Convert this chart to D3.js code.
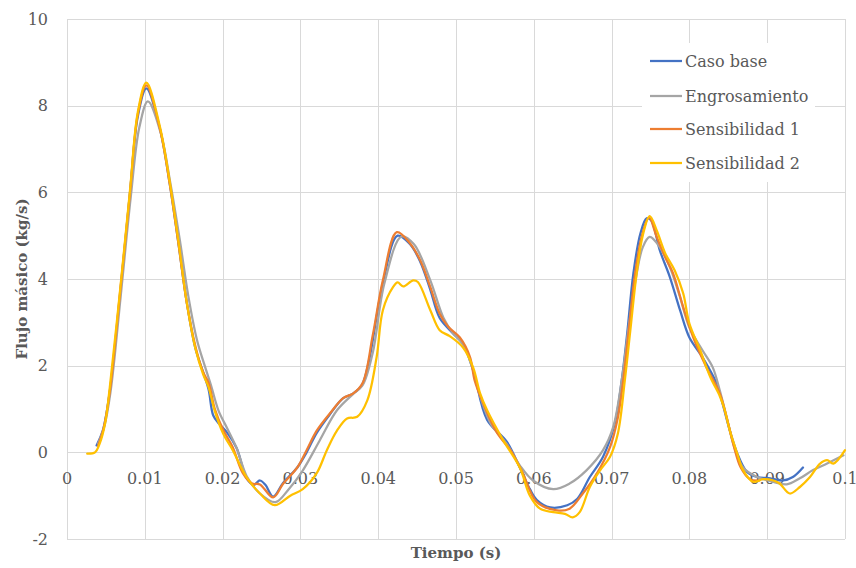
<!DOCTYPE html>
<html>
<head>
<meta charset="utf-8">
<script src="https://cdn.jsdelivr.net/npm/d3@7"></script>
<style>
  html, body { margin: 0; padding: 0; background: #fff; }
  svg { display: block; }
</style>
</head>
<body>
<svg id="chart" width="856" height="568"></svg>
<script>
// ---- Data (time in s, mass flow in kg/s) ----
const seriesNames = ["Caso base", "Engrosamiento", "Sensibilidad 1", "Sensibilidad 2"];
const xTicks = [0, 0.01, 0.02, 0.03, 0.04, 0.05, 0.06, 0.07, 0.08, 0.09, 0.1];
const xTickLabels = ["0", "0.01", "0.02", "0.03", "0.04", "0.05", "0.06", "0.07", "0.08", "0.09", "0.1"];
const yTicks = [-2, 0, 2, 4, 6, 8, 10];

const casoBase = [
  [0.0038,0.16],[0.0046,0.5],[0.0055,1.4],[0.0068,3.6],[0.0081,6.0],[0.0091,7.75],[0.0102,8.4],
  [0.0119,7.5],[0.0132,6.2],[0.0143,4.85],[0.0154,3.45],[0.0165,2.4],[0.0175,1.85],[0.0182,1.45],
  [0.0188,0.85],[0.0196,0.65],[0.0206,0.45],[0.0218,0.1],[0.0231,-0.6],[0.0240,-0.75],[0.0248,-0.65],
  [0.0255,-0.75],[0.0265,-1.02],[0.0278,-0.7],[0.0296,-0.35],[0.0308,0.0],[0.0321,0.45],[0.0338,0.88],
  [0.0355,1.25],[0.0368,1.36],[0.0379,1.55],[0.0388,2.1],[0.0406,3.9],[0.0425,5.0],[0.0441,4.8],
  [0.0454,4.4],[0.0467,3.75],[0.0479,3.1],[0.0496,2.75],[0.0509,2.5],[0.0522,1.9],[0.0540,0.75],
  [0.0565,0.25],[0.0582,-0.35],[0.0595,-0.85],[0.0604,-1.1],[0.0621,-1.27],[0.0643,-1.22],[0.0656,-1.07],
  [0.0672,-0.57],[0.0689,-0.1],[0.0704,0.66],[0.0713,1.66],[0.0720,2.74],[0.0728,4.13],[0.0737,5.05],
  [0.0745,5.4],[0.0751,5.35],[0.0762,4.66],[0.0775,4.04],[0.0788,3.28],[0.0800,2.65],[0.0817,2.19],
  [0.0835,1.59],[0.0843,1.1],[0.0852,0.5],[0.0861,0.0],[0.0874,-0.45],[0.0887,-0.57],[0.0904,-0.6],
  [0.0920,-0.65],[0.0933,-0.57],[0.0946,-0.35]
];

const engrosamiento = [
  [0.0040,0.2],[0.0048,0.6],[0.0056,1.4],[0.0069,3.6],[0.0082,5.9],[0.0093,7.5],[0.0104,8.1],
  [0.0120,7.4],[0.0133,6.2],[0.0145,4.9],[0.0156,3.6],[0.0167,2.6],[0.0177,2.0],[0.0185,1.55],
  [0.0195,0.95],[0.0206,0.55],[0.0218,0.1],[0.0231,-0.55],[0.0248,-0.95],[0.0268,-1.15],[0.0285,-0.85],
  [0.0303,-0.42],[0.0325,0.28],[0.0347,0.97],[0.0368,1.35],[0.0380,1.55],[0.0393,2.3],[0.0408,3.9],
  [0.0430,4.98],[0.0446,4.8],[0.0467,3.97],[0.0484,3.1],[0.0496,2.75],[0.0509,2.5],[0.0520,2.0],
  [0.0531,1.3],[0.0545,0.65],[0.0565,0.2],[0.0582,-0.3],[0.0599,-0.65],[0.0625,-0.85],[0.0646,-0.72],
  [0.0668,-0.41],[0.0689,0.05],[0.0702,0.58],[0.0713,1.66],[0.0722,2.9],[0.0732,4.1],[0.0740,4.73],
  [0.0749,4.97],[0.0762,4.73],[0.0775,4.27],[0.0788,3.58],[0.0800,2.88],[0.0817,2.35],[0.0830,1.96],
  [0.0839,1.43],[0.0848,0.8],[0.0858,0.1],[0.0869,-0.35],[0.0887,-0.57],[0.0908,-0.68],[0.0925,-0.74],
  [0.0942,-0.6],[0.0959,-0.41],[0.0977,-0.26],[0.0998,-0.07]
];

const sensibilidad1 = [
  [0.0040,0.15],[0.0047,0.55],[0.0055,1.4],[0.0068,3.65],[0.0081,6.0],[0.0091,7.8],[0.0102,8.47],
  [0.0119,7.5],[0.0132,6.2],[0.0143,4.85],[0.0154,3.45],[0.0165,2.45],[0.0175,1.85],[0.0182,1.6],
  [0.0190,1.0],[0.0201,0.51],[0.0213,0.12],[0.0226,-0.48],[0.0238,-0.72],[0.0248,-0.74],[0.0265,-1.04],
  [0.0278,-0.72],[0.0296,-0.35],[0.0308,0.05],[0.0321,0.5],[0.0338,0.9],[0.0355,1.25],[0.0368,1.36],
  [0.0380,1.6],[0.0393,2.7],[0.0406,3.97],[0.0424,5.08],[0.0441,4.82],[0.0454,4.43],[0.0467,3.81],
  [0.0479,3.2],[0.0490,2.9],[0.0505,2.65],[0.0518,2.2],[0.0524,1.66],[0.0535,1.13],[0.0553,0.44],
  [0.0570,0.05],[0.0585,-0.45],[0.0604,-1.15],[0.0630,-1.34],[0.0646,-1.3],[0.0663,-0.95],[0.0681,-0.49],
  [0.0698,0.12],[0.0708,0.8],[0.0715,1.66],[0.0722,2.8],[0.0730,4.1],[0.0739,5.0],[0.0748,5.42],
  [0.0758,4.97],[0.0769,4.5],[0.0779,4.13],[0.0792,3.35],[0.0805,2.65],[0.0822,1.96],[0.0839,1.36],
  [0.0848,0.8],[0.0857,0.15],[0.0866,-0.35],[0.0878,-0.62],[0.0890,-0.65]
];

const sensibilidad2 = [
  [0.0026,-0.03],[0.0036,0.0],[0.0042,0.2],[0.0049,0.67],[0.0055,1.5],[0.0068,3.7],[0.0081,6.05],
  [0.0091,7.85],[0.0102,8.53],[0.0119,7.55],[0.0132,6.25],[0.0143,4.9],[0.0154,3.45],[0.0165,2.4],
  [0.0175,1.8],[0.0182,1.5],[0.0190,0.95],[0.0201,0.42],[0.0213,0.05],[0.0231,-0.58],[0.0248,-0.95],
  [0.0267,-1.22],[0.0287,-1.0],[0.0303,-0.85],[0.0321,-0.48],[0.0334,0.05],[0.0347,0.5],[0.0360,0.78],
  [0.0373,0.82],[0.0386,1.2],[0.0398,2.2],[0.0406,3.28],[0.0419,3.81],[0.0425,3.92],[0.0432,3.83],
  [0.0445,3.97],[0.0451,3.93],[0.0467,3.28],[0.0479,2.82],[0.0492,2.68],[0.0509,2.42],[0.0522,1.96],
  [0.0531,1.36],[0.0540,0.97],[0.0560,0.3],[0.0582,-0.35],[0.0595,-1.0],[0.0608,-1.3],[0.0625,-1.38],
  [0.0640,-1.42],[0.0650,-1.5],[0.0659,-1.38],[0.0672,-0.8],[0.0685,-0.42],[0.0698,-0.1],[0.0708,0.43],
  [0.0717,1.66],[0.0724,2.8],[0.0732,4.1],[0.0740,5.0],[0.0749,5.45],[0.0758,5.12],[0.0769,4.59],
  [0.0781,4.2],[0.0792,3.67],[0.0800,2.97],[0.0814,2.35],[0.0827,1.73],[0.0839,1.3],[0.0845,1.0],
  [0.0852,0.5],[0.0861,0.0],[0.0869,-0.41],[0.0882,-0.68],[0.0895,-0.62],[0.0908,-0.65],[0.0916,-0.72],
  [0.0929,-0.95],[0.0942,-0.8],[0.0955,-0.57],[0.0968,-0.26],[0.0977,-0.18],[0.0985,-0.26],[0.1000,0.05]
];

const seriesData = [casoBase, engrosamiento, sensibilidad1, sensibilidad2];
const seriesColors = ["#4472C4", "#A5A5A5", "#ED7D31", "#FFC000"];

// ---- Layout ----
const svg = d3.select("#chart");
const plot = { left: 67, right: 845, top: 19, bottom: 539 };
const FONT = "'DejaVu Serif', 'Liberation Serif', serif";
const TEXT = "#595959";
const GRID = "#d9d9d9";

const x = d3.scaleLinear().domain([0, 0.1]).range([plot.left, plot.right]);
const y = d3.scaleLinear().domain([-2, 10]).range([plot.bottom, plot.top]);

// gridlines
const g = svg.append("g");
g.selectAll("line.h").data(yTicks).join("line")
  .attr("x1", plot.left).attr("x2", plot.right)
  .attr("y1", d => Math.round(y(d)) + 0.5).attr("y2", d => Math.round(y(d)) + 0.5)
  .attr("stroke", GRID).attr("stroke-width", 1);
g.selectAll("line.v").data(xTicks).join("line")
  .attr("y1", plot.top).attr("y2", plot.bottom)
  .attr("x1", d => Math.round(x(d)) + 0.5).attr("x2", d => Math.round(x(d)) + 0.5)
  .attr("stroke", GRID).attr("stroke-width", 1);

// y tick labels
svg.append("g").selectAll("text").data(yTicks).join("text")
  .attr("x", 48).attr("y", d => y(d))
  .attr("dy", "0.35em").attr("text-anchor", "end")
  .attr("font-family", FONT).attr("font-size", 16).attr("fill", TEXT)
  .text(d => d);

// x tick labels (axis crosses at 0)
svg.append("g").selectAll("text").data(xTicks).join("text")
  .attr("x", d => x(d)).attr("y", y(0) + 26)
  .attr("dy", "0.35em").attr("text-anchor", "middle")
  .attr("font-family", FONT).attr("font-size", 16).attr("fill", TEXT)
  .text((d, i) => xTickLabels[i]);

// lines
const line = d3.line()
  .x(d => x(d[0])).y(d => y(d[1]))
  .curve(d3.curveCatmullRom.alpha(0.5));

svg.append("g").selectAll("path").data(seriesData).join("path")
  .attr("d", line)
  .attr("fill", "none")
  .attr("stroke", (d, i) => seriesColors[i])
  .attr("stroke-width", 2.25)
  .attr("stroke-linejoin", "round")
  .attr("stroke-linecap", "round");

// axis titles
svg.append("text")
  .attr("x", (plot.left + plot.right) / 2).attr("y", 553)
  .attr("dy", "0.35em").attr("text-anchor", "middle")
  .attr("font-family", FONT).attr("font-size", 15).attr("font-weight", "bold").attr("fill", TEXT)
  .text("Tiempo (s)");

svg.append("text")
  .attr("transform", `translate(22, ${(plot.top + plot.bottom) / 2}) rotate(-90)`)
  .attr("dy", "0.35em").attr("text-anchor", "middle")
  .attr("font-family", FONT).attr("font-size", 15).attr("font-weight", "bold").attr("fill", TEXT)
  .text("Flujo másico (kg/s)");

// legend
const legend = svg.append("g");
legend.append("rect")
  .attr("x", 642).attr("y", 43).attr("width", 173).attr("height", 139)
  .attr("fill", "#fff");
const legendY = [61, 96, 129, 163];
const items = legend.selectAll("g.item").data(seriesNames).join("g")
  .attr("transform", (d, i) => `translate(650, ${legendY[i]})`);
items.append("line")
  .attr("x1", 0).attr("x2", 32).attr("y1", 0).attr("y2", 0)
  .attr("stroke", (d, i) => seriesColors[i]).attr("stroke-width", 2.25);
items.append("text")
  .attr("x", 35).attr("y", 0).attr("dy", "0.35em")
  .attr("font-family", FONT).attr("font-size", 16).attr("fill", TEXT)
  .text(d => d);
</script>
</body>
</html>
